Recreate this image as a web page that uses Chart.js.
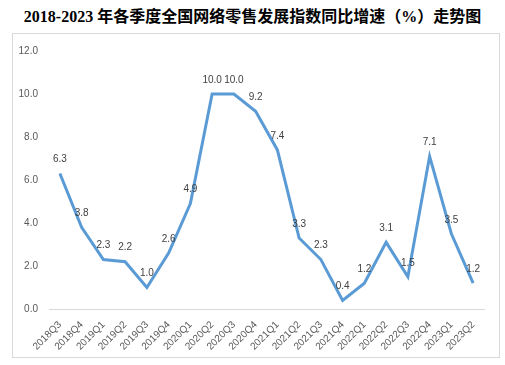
<!DOCTYPE html>
<html><head><meta charset="utf-8">
<script src="https://cdn.jsdelivr.net/npm/chart.js@4/dist/chart.umd.min.js"></script>
<style>
html,body{margin:0;padding:0;background:#fff;width:505px;height:365px;overflow:hidden;}
#title{position:absolute;left:0;top:6px;width:505px;text-align:center;font:bold 16px "Liberation Serif","Noto Sans CJK SC",serif;color:#000;line-height:22px;}
#box{position:absolute;left:12px;top:33px;width:486px;height:323px;border:1px solid #d9d9d9;}
canvas{display:block;}
</style></head><body>
<div id="title">2018-2023 年各季度全国网络零售发展指数同比增速（%）走势图</div>
<div id="box"><canvas id="c" width="486" height="323"></canvas></div>
<script>
const categories = ["2018Q3","2018Q4","2019Q1","2019Q2","2019Q3","2019Q4","2020Q1","2020Q2","2020Q3","2020Q4","2021Q1","2021Q2","2021Q3","2021Q4","2022Q1","2022Q2","2022Q3","2022Q4","2023Q1","2023Q2"];
const growthValues = [6.3,3.8,2.3,2.2,1.0,2.6,4.9,10.0,10.0,9.2,7.4,3.3,2.3,0.4,1.2,3.1,1.5,7.1,3.5,1.2];
const yTicks = [0,2,4,6,8,10,12];

const labelPlugin = {
  id: 'pointLabels',
  afterDatasetsDraw(chart) {
    const ctx = chart.ctx;
    const meta = chart.getDatasetMeta(0);
    ctx.save();
    ctx.font = '10px "Liberation Sans", Arial, sans-serif';
    ctx.fillStyle = '#404040';
    ctx.textAlign = 'center';
    ctx.textBaseline = 'middle';
    meta.data.forEach((pt, i) => {
      ctx.fillText(growthValues[i].toFixed(1), pt.x, pt.y - 14);
    });
    ctx.restore();
  }
};

new Chart(document.getElementById('c'), {
  type: 'line',
  data: {
    labels: categories,
    datasets: [{
      data: growthValues,
      borderColor: '#5B9BD5',
      borderWidth: 3,
      pointRadius: 0,
      tension: 0,
      fill: false
    }]
  },
  options: {
    responsive: false,
    animation: false,
    layout: { padding: { top: 15, right: 15, left: 0, bottom: 0 } },
    plugins: { legend: { display: false }, title: { display: false }, tooltip: { enabled: false } },
    scales: {
      x: {
        offset: true,
        grid: { display: false },
        border: { display: true, color: '#d9d9d9', width: 1 },
        ticks: {
          autoSkip: false, maxRotation: 45, minRotation: 45,
          color: '#595959', font: { size: 10, family: '"Liberation Sans", Arial, sans-serif' },
          padding: 2
        },
        afterFit(s) { s.height = 48; }
      },
      y: {
        min: 0, max: 12,
        afterBuildTicks(s) { s.ticks = yTicks.map(v => ({ value: v })); },
        grid: { display: false, drawTicks: false },
        border: { display: false },
        ticks: {
          color: '#595959', font: { size: 10, family: '"Liberation Sans", Arial, sans-serif' },
          padding: 11,
          callback: v => Number(v).toFixed(1)
        },
        afterFit(s) { s.width = 36; }
      }
    }
  },
  plugins: [labelPlugin]
});
</script>
</body></html>
